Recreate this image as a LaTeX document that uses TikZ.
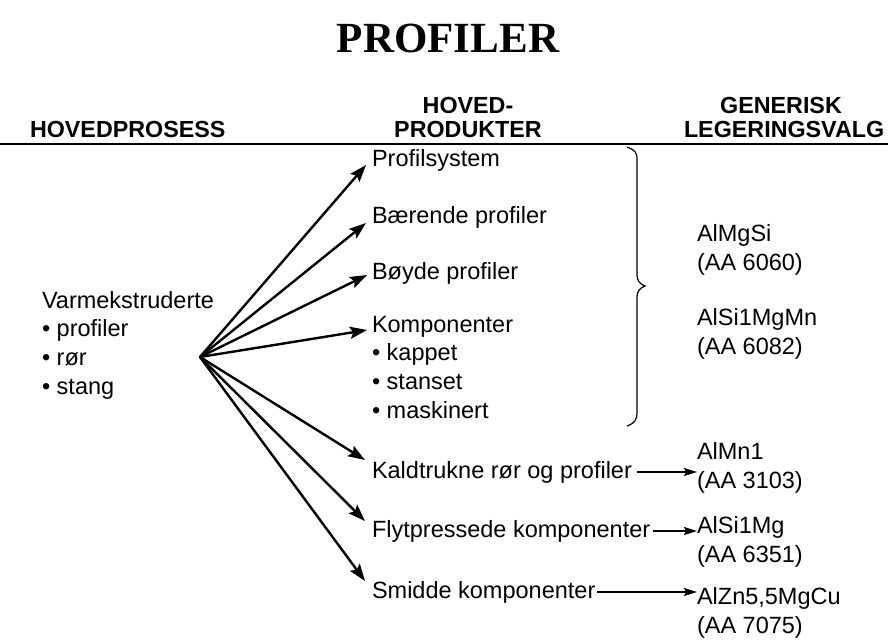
\documentclass[tikz,border=0pt]{standalone}
\usepackage{fontspec}
\setmainfont{Liberation Sans}
\newfontfamily\titlefont{Liberation Serif}
\usetikzlibrary{arrows.meta}
\begin{document}
\begin{tikzpicture}[x=1pt,y=-1pt,
  every node/.style={inner sep=0pt,outer sep=0pt},
  body/.style={anchor=west,font=\fontsize{23.5}{28.7}\selectfont,align=left},
  head/.style={font=\bfseries\fontsize{23.3}{24}\selectfont,anchor=base},
  arr/.style={line width=2.4pt,-{Stealth[length=17pt,width=12pt,inset=3pt]}},
  sarr/.style={line width=1.6pt,-{Stealth[length=13pt,width=8pt,inset=2pt]}}]
\useasboundingbox (0,0) rectangle (888,640);
% title
\node[font=\titlefont\bfseries\fontsize{43}{48}\selectfont,anchor=base] (title) at (448,52) {PROFILER};
% headers
\node[head,anchor=base west] (h1) at (30,137) {HOVEDPROSESS};
\node[head] (h2a) at (468,113) {HOVED-};
\node[head] (h2b) at (468,137) {PRODUKTER};
\node[head] (h3a) at (781,113) {GENERISK};
\node[head,anchor=base west] (h3b) at (684,137) {LEGERINGSVALG};
\coordinate (l1) at (0,143.5);
\coordinate (l2) at (888,143.5);
\draw[line width=2pt] (l1) -- (l2);
% left
\node[body] (src) at (42,345) {Varmekstruderte\\\textbullet\ profiler\\\textbullet\ rør\\\textbullet\ stang};
\coordinate (o) at (200,357);
% middle
\node[body] (p1) at (372,160) {Profilsystem};
\node[body] (p2) at (372,217) {Bærende profiler};
\node[body] (p3) at (372,273) {Bøyde profiler};
\node[body,anchor=north west] (p4) at (372,316) {Komponenter\\\textbullet\ kappet\\\textbullet\ stanset\\\textbullet\ maskinert};
\node[body] (p5) at (372,472) {Kaldtrukne rør og profiler};
\node[body] (p6) at (372,531) {Flytpressede komponenter};
\node[body] (p7) at (372,592) {Smidde komponenter};
\coordinate (t1) at (366,165);
\coordinate (t2) at (366,223);
\coordinate (t3) at (367,275);
\coordinate (t4) at (367,330);
\coordinate (t5) at (365,460);
\coordinate (t6) at (365,521);
\coordinate (t7) at (365,581);
\foreach \t in {t1,t2,t3,t4,t5,t6,t7} \draw[arr] (o) -- (\t);
% right
\node[body,align=left] (a1) at (697,250) {AlMgSi\\(AA 6060)};
\node[body,align=left] (a2) at (697,334) {AlSi1MgMn\\(AA 6082)};
\node[body,align=left] (a3) at (697,468) {AlMn1\\(AA 3103)};
\node[body,align=left] (a4) at (697,542) {AlSi1Mg\\(AA 6351)};
\node[body,align=left] (a5) at (697,613) {AlZn5,5MgCu\\(AA 7075)};
\draw[sarr] (p5.east) ++(5,0) coordinate (s5) -- (a3.west |- s5);
\draw[sarr] (p6.east) ++(3,0) coordinate (s6) -- (a4.west |- s6);
\draw[sarr] (p7.east) ++(2,0) coordinate (s7) -- (a5.west |- s7);
% brace
\draw[line width=1.2pt] (627,147) .. controls (635,150) and (637,152) .. (637,160)
  -- (637,275) .. controls (637,281) and (640,284) .. (645,286)
  .. controls (640,288) and (637,291) .. (637,297)
  -- (637,412) .. controls (637,420) and (635,423) .. (627,426);
\end{tikzpicture}
\end{document}
